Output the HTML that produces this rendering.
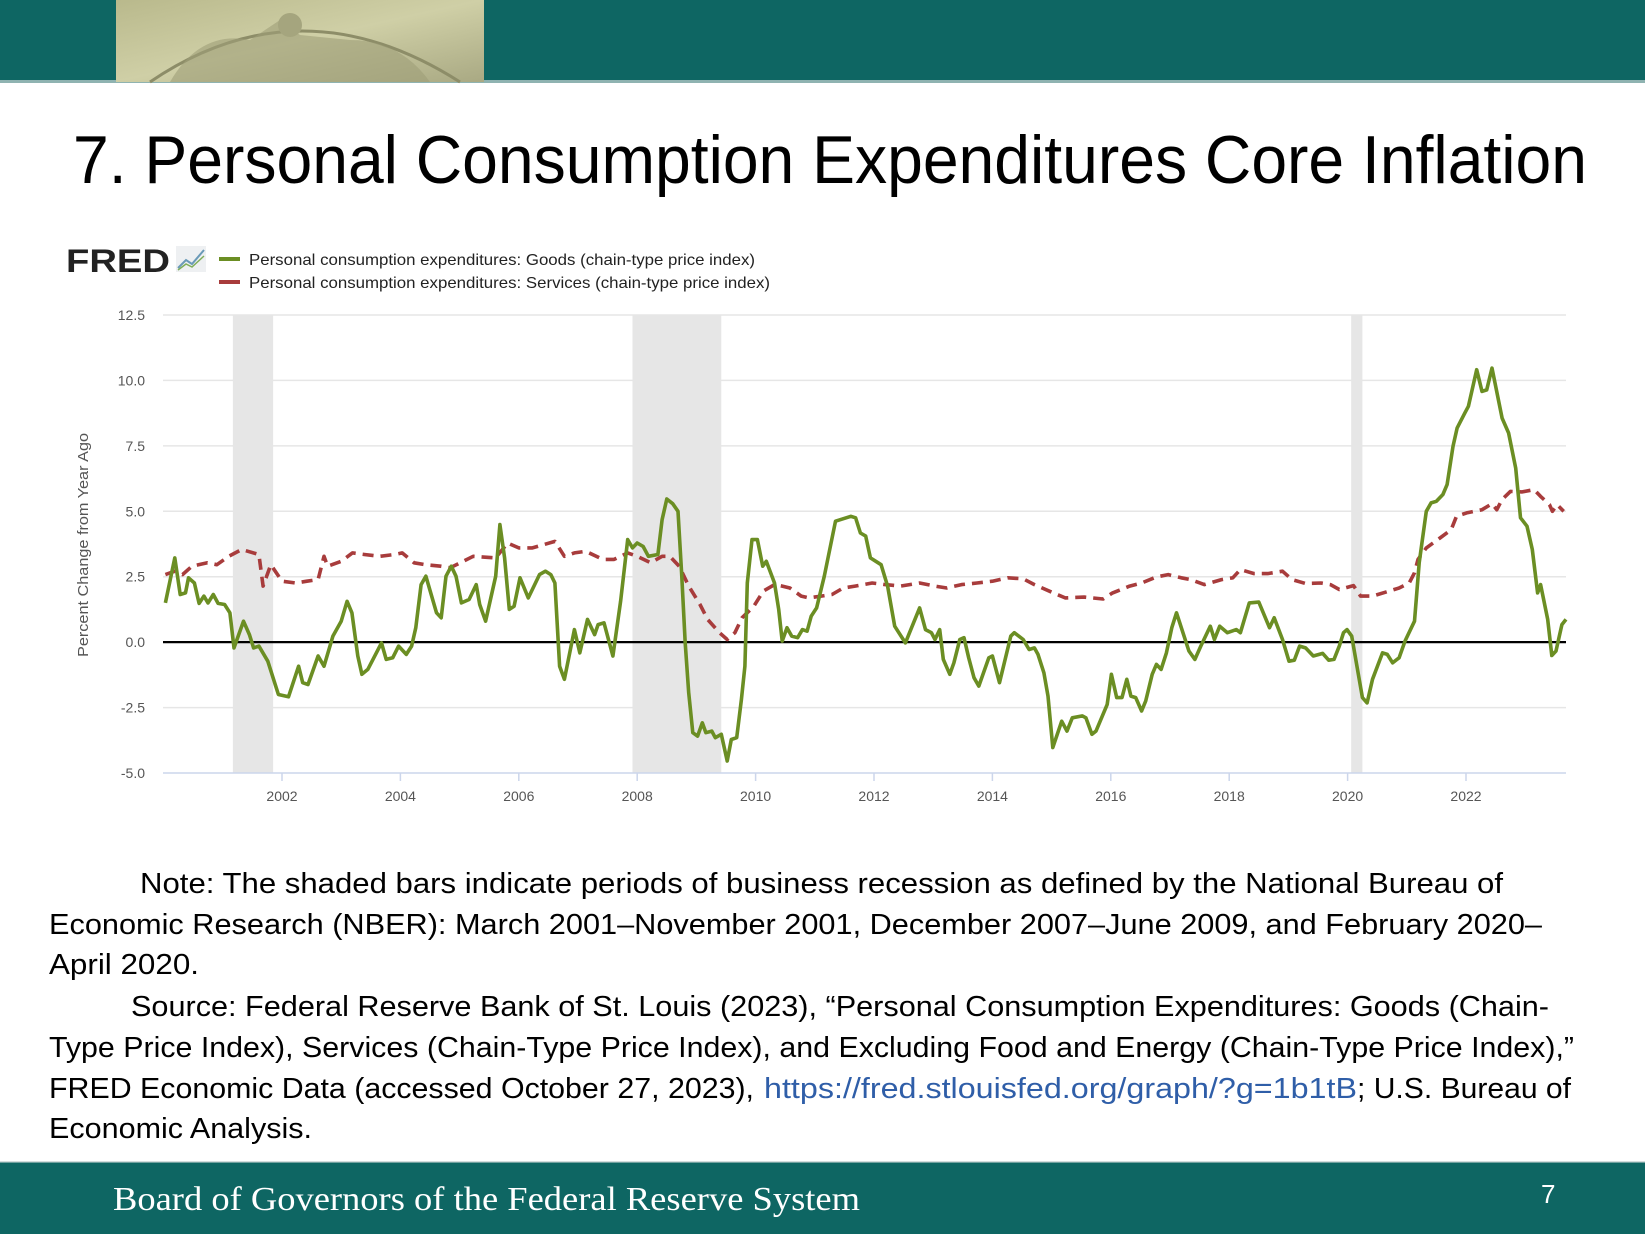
<!DOCTYPE html>
<html><head><meta charset="utf-8"><style>
html,body{margin:0;padding:0;background:#fff;}
svg{display:block;}
text{font-family:"Liberation Sans",sans-serif;}
</style></head><body>
<svg id="page" width="1645" height="1234" viewBox="0 0 1645 1234" xmlns="http://www.w3.org/2000/svg">
<defs>
<linearGradient id="seal" x1="0" y1="0" x2="1" y2="1">
<stop offset="0" stop-color="#b9b98c"/><stop offset="0.5" stop-color="#cfcfa6"/><stop offset="1" stop-color="#a9a983"/>
</linearGradient>
</defs>
<rect x="0" y="0" width="1645" height="82" fill="#0e6663"/>
<rect x="0" y="80" width="1645" height="3" fill="#8fb3b1"/>
<g>
<rect x="116" y="0" width="368" height="82" fill="url(#seal)"/>
<path d="M150 82 Q300 -20 460 82" fill="none" stroke="#8d8d68" stroke-width="3"/>
<path d="M170 82 Q200 30 250 40 L280 20 L300 35 L350 40 Q400 40 430 82" fill="#9f9f78" opacity="0.6"/>
<circle cx="290" cy="25" r="12" fill="#a5a57e"/>
</g>
<text x="73" y="183" font-size="68" fill="#000" textLength="1514" lengthAdjust="spacingAndGlyphs">7. Personal Consumption Expenditures Core Inflation</text>

<g>
<text x="66" y="272" font-size="32" font-weight="bold" fill="#222" textLength="104" lengthAdjust="spacingAndGlyphs">FRED</text>
<rect x="176" y="246" width="30" height="26" fill="#eef0f2"/>
<polyline points="178,268 186,260 192,264 204,250" fill="none" stroke="#6a9ab8" stroke-width="2"/>
<polyline points="178,270 186,264 192,267 204,256" fill="none" stroke="#7fae5a" stroke-width="1.5"/>
</g>
<g>
<line x1="219" y1="259" x2="240" y2="259" stroke="#6b8e23" stroke-width="4"/>
<text x="249" y="265" font-size="16" fill="#222" textLength="506" lengthAdjust="spacingAndGlyphs">Personal consumption expenditures: Goods (chain-type price index)</text>
<line x1="219" y1="282" x2="240" y2="282" stroke="#a83c3c" stroke-width="4"/>
<text x="249" y="288" font-size="16" fill="#222" textLength="521" lengthAdjust="spacingAndGlyphs">Personal consumption expenditures: Services (chain-type price index)</text>
</g>
<text transform="translate(88,545) rotate(-90)" text-anchor="middle" font-size="15" fill="#555" textLength="224" lengthAdjust="spacingAndGlyphs">Percent Change from Year Ago</text>
<g id="chart"></g>

<g font-size="29" fill="#000">
<text x="140" y="893" textLength="1363" lengthAdjust="spacingAndGlyphs">Note: The shaded bars indicate periods of business recession as defined by the National Bureau of</text>
<text x="49" y="934" textLength="1493" lengthAdjust="spacingAndGlyphs">Economic Research (NBER): March 2001–November 2001, December 2007–June 2009, and February 2020–</text>
<text x="49" y="974" textLength="150" lengthAdjust="spacingAndGlyphs">April 2020.</text>
</g>
<g font-size="29" fill="#000">
<text x="131" y="1016" textLength="1418" lengthAdjust="spacingAndGlyphs">Source: Federal Reserve Bank of St. Louis (2023), “Personal Consumption Expenditures: Goods (Chain-</text>
<text x="49" y="1057" textLength="1525" lengthAdjust="spacingAndGlyphs">Type Price Index), Services (Chain-Type Price Index), and Excluding Food and Energy (Chain-Type Price Index),”</text>
<text x="49" y="1098" textLength="705" lengthAdjust="spacingAndGlyphs">FRED Economic Data (accessed October 27, 2023),</text>
<text x="764" y="1098" fill="#2f5ea8" textLength="593" lengthAdjust="spacingAndGlyphs">https://fred.stlouisfed.org/graph/?g=1b1tB</text>
<text x="1357" y="1098" textLength="214" lengthAdjust="spacingAndGlyphs">; U.S. Bureau of</text>
<text x="49" y="1138" textLength="263" lengthAdjust="spacingAndGlyphs">Economic Analysis.</text>
</g>
<rect x="0" y="1162" width="1645" height="72" fill="#0e6663"/>
<rect x="0" y="1161" width="1645" height="1.5" fill="#d5dcdc"/>
<text x="113" y="1210" font-size="34" fill="#fff" style="font-family:'Liberation Serif',serif" textLength="747" lengthAdjust="spacingAndGlyphs">Board of Governors of the Federal Reserve System</text>
<text x="1541" y="1203" font-size="26" fill="#fff">7</text>
</svg>
<script>
const recessionStarts=[2001.17,2007.92,2020.06];
const recessionEnds=[2001.85,2009.42,2020.25];
const yTicks=[12.5,10.0,7.5,5.0,2.5,0.0,-2.5,-5.0];
const xTickYears=[2002,2004,2006,2008,2010,2012,2014,2016,2018,2020,2022];
const goodsDates=[2000.03,2000.19,2000.28,2000.37,2000.42,2000.52,2000.60,2000.68,2000.75,2000.84,2000.92,2001.03,2001.12,2001.19,2001.35,2001.45,2001.52,2001.61,2001.76,2001.94,2002.11,2002.28,2002.35,2002.44,2002.61,2002.71,2002.86,2003.00,2003.10,2003.18,2003.28,2003.35,2003.45,2003.68,2003.76,2003.87,2003.97,2004.10,2004.19,2004.26,2004.35,2004.43,2004.61,2004.69,2004.77,2004.86,2004.94,2005.03,2005.16,2005.28,2005.34,2005.44,2005.61,2005.68,2005.76,2005.84,2005.92,2006.02,2006.16,2006.35,2006.45,2006.54,2006.61,2006.69,2006.77,2006.94,2007.03,2007.16,2007.28,2007.34,2007.44,2007.59,2007.72,2007.84,2007.92,2008.00,2008.10,2008.19,2008.35,2008.42,2008.50,2008.60,2008.69,2008.75,2008.81,2008.87,2008.94,2009.02,2009.10,2009.16,2009.26,2009.32,2009.42,2009.52,2009.59,2009.68,2009.76,2009.82,2009.86,2009.94,2010.03,2010.12,2010.18,2010.32,2010.39,2010.45,2010.53,2010.61,2010.71,2010.79,2010.87,2010.94,2011.03,2011.16,2011.35,2011.61,2011.69,2011.77,2011.86,2011.94,2012.03,2012.12,2012.23,2012.35,2012.53,2012.77,2012.87,2012.97,2013.03,2013.11,2013.17,2013.28,2013.35,2013.45,2013.52,2013.60,2013.69,2013.77,2013.94,2014.00,2014.12,2014.31,2014.37,2014.52,2014.62,2014.71,2014.77,2014.87,2014.94,2015.02,2015.17,2015.26,2015.35,2015.52,2015.58,2015.68,2015.75,2015.94,2016.01,2016.10,2016.19,2016.27,2016.34,2016.42,2016.52,2016.59,2016.70,2016.77,2016.85,2016.94,2017.03,2017.11,2017.32,2017.42,2017.52,2017.68,2017.75,2017.84,2017.97,2018.12,2018.19,2018.34,2018.50,2018.68,2018.76,2018.90,2019.01,2019.10,2019.19,2019.29,2019.42,2019.58,2019.68,2019.77,2019.86,2019.93,2019.99,2020.07,2020.25,2020.33,2020.42,2020.59,2020.67,2020.76,2020.87,2020.97,2021.13,2021.21,2021.33,2021.41,2021.50,2021.61,2021.68,2021.78,2021.85,2021.98,2022.04,2022.18,2022.27,2022.35,2022.44,2022.61,2022.72,2022.84,2022.92,2023.03,2023.12,2023.21,2023.26,2023.38,2023.45,2023.52,2023.62,2023.69];
const goodsValues=[1.50,3.22,1.82,1.88,2.46,2.26,1.48,1.76,1.50,1.82,1.48,1.44,1.12,-0.22,0.80,0.29,-0.22,-0.15,-0.73,-2.00,-2.09,-0.92,-1.55,-1.62,-0.53,-0.92,0.23,0.80,1.56,1.12,-0.53,-1.23,-1.04,-0.03,-0.66,-0.60,-0.15,-0.47,-0.15,0.55,2.20,2.52,1.12,0.93,2.52,2.90,2.52,1.50,1.63,2.20,1.44,0.80,2.52,4.49,3.22,1.25,1.37,2.46,1.69,2.58,2.71,2.58,2.26,-0.92,-1.42,0.48,-0.41,0.87,0.29,0.67,0.74,-0.53,1.56,3.92,3.60,3.79,3.66,3.28,3.35,4.68,5.47,5.29,5.00,2.65,-0.03,-1.93,-3.46,-3.59,-3.08,-3.46,-3.40,-3.65,-3.52,-4.54,-3.72,-3.65,-2.19,-0.92,2.26,3.92,3.92,2.90,3.09,2.26,1.25,0.04,0.55,0.23,0.17,0.48,0.42,0.99,1.31,2.52,4.62,4.81,4.75,4.17,4.05,3.22,3.09,2.96,2.14,0.61,-0.03,1.31,0.48,0.36,0.10,0.48,-0.66,-1.23,-0.79,0.10,0.17,-0.60,-1.36,-1.68,-0.60,-0.53,-1.55,0.23,0.36,0.10,-0.28,-0.22,-0.47,-1.17,-2.06,-4.03,-3.02,-3.40,-2.89,-2.82,-2.89,-3.52,-3.40,-2.38,-1.23,-2.12,-2.12,-1.42,-2.06,-2.12,-2.63,-2.25,-1.23,-0.85,-1.04,-0.41,0.55,1.12,-0.34,-0.66,-0.15,0.61,0.10,0.61,0.36,0.48,0.36,1.50,1.53,0.55,0.93,0.10,-0.73,-0.69,-0.15,-0.22,-0.53,-0.43,-0.69,-0.66,-0.15,0.36,0.48,0.23,-2.12,-2.32,-1.42,-0.41,-0.47,-0.79,-0.60,0.04,0.80,3.03,5.00,5.32,5.38,5.64,6.02,7.48,8.18,8.75,9.01,10.41,9.58,9.64,10.47,8.56,7.99,6.65,4.75,4.43,3.54,1.88,2.20,0.87,-0.51,-0.34,0.67,0.87];
const servicesDates=[2000.03,2000.19,2000.32,2000.48,2000.74,2000.90,2001.10,2001.32,2001.61,2001.68,2001.81,2002.00,2002.23,2002.42,2002.61,2002.71,2002.77,2003.00,2003.19,2003.39,2003.65,2003.90,2004.03,2004.23,2004.42,2004.68,2004.84,2005.06,2005.23,2005.61,2005.81,2006.00,2006.23,2006.61,2006.77,2006.94,2007.13,2007.42,2007.61,2007.84,2008.00,2008.23,2008.42,2008.55,2008.71,2008.87,2009.06,2009.19,2009.39,2009.52,2009.65,2009.77,2009.97,2010.13,2010.32,2010.45,2010.58,2010.77,2010.90,2011.29,2011.48,2011.68,2011.97,2012.19,2012.45,2012.77,2013.03,2013.23,2013.48,2013.74,2014.00,2014.26,2014.52,2014.71,2015.03,2015.23,2015.55,2015.87,2016.03,2016.32,2016.52,2016.77,2016.97,2017.19,2017.35,2017.58,2017.87,2018.06,2018.19,2018.42,2018.65,2018.90,2019.06,2019.29,2019.55,2019.71,2019.86,2020.10,2020.22,2020.42,2020.64,2020.87,2021.04,2021.13,2021.19,2021.33,2021.56,2021.75,2021.84,2022.01,2022.27,2022.44,2022.52,2022.61,2022.75,2022.95,2023.15,2023.26,2023.41,2023.46,2023.54,2023.65];
const servicesValues=[2.58,2.71,2.58,2.90,3.03,2.96,3.28,3.54,3.35,2.14,2.96,2.33,2.26,2.33,2.39,3.28,2.90,3.09,3.41,3.35,3.28,3.35,3.41,3.03,2.96,2.90,2.84,3.09,3.28,3.22,3.79,3.60,3.60,3.85,3.28,3.41,3.47,3.16,3.16,3.41,3.28,3.03,3.28,3.28,2.90,2.14,1.44,0.87,0.36,0.10,0.36,0.93,1.37,1.95,2.20,2.14,2.07,1.76,1.69,1.82,2.07,2.14,2.26,2.20,2.14,2.26,2.14,2.07,2.20,2.26,2.33,2.46,2.42,2.20,1.88,1.69,1.72,1.65,1.88,2.14,2.26,2.49,2.58,2.46,2.39,2.20,2.39,2.46,2.77,2.62,2.62,2.71,2.39,2.24,2.26,2.20,2.01,2.16,1.76,1.76,1.91,2.07,2.26,2.65,3.16,3.60,3.98,4.30,4.81,4.94,5.06,5.29,5.06,5.45,5.76,5.74,5.83,5.57,5.25,5.00,5.25,5.00];

const NS='http://www.w3.org/2000/svg';
const plotL=163,plotR=1566,plotT=315,plotB=773;
const yMin=-5,yMax=12.5,x0Year=2002,x1Year=2022,x0Px=282,x1Px=1466;
function xScale(yr){return x0Px+(yr-x0Year)*(x1Px-x0Px)/(x1Year-x0Year);}
function yScale(v){return plotB-(v-yMin)*(plotB-plotT)/(yMax-yMin);}
const chart=document.getElementById('chart');
function mk(tag,attrs){const e=document.createElementNS(NS,tag);for(const k in attrs)e.setAttribute(k,attrs[k]);chart.appendChild(e);return e;}
recessionStarts.forEach((s,i)=>{
  const r=mk('rect',{x:xScale(s),y:plotT,width:xScale(recessionEnds[i])-xScale(s),height:plotB-plotT,fill:'#e6e6e6'});
  
  
});
yTicks.forEach(v=>{
  if(v!==yMin){
    const g=mk('line',{x1:plotL,x2:plotR,y1:yScale(v),y2:yScale(v),stroke:'#e6e6e6','stroke-width':1.5});
    
    
  }
  const t=mk('text',{x:145,y:yScale(v)+5,'text-anchor':'end','font-size':14,fill:'#555'});
  t.textContent=v.toFixed(1);
  
  
});
const ax=mk('line',{x1:plotL,x2:plotR,y1:plotB,y2:plotB,stroke:'#ccd6eb','stroke-width':1.5});


xTickYears.forEach(yr=>{
  const tk=mk('line',{x1:xScale(yr),x2:xScale(yr),y1:plotB,y2:plotB+8,stroke:'#ccd6eb','stroke-width':1.5});
  
  
  const t=mk('text',{x:xScale(yr),y:801,'text-anchor':'middle','font-size':14,fill:'#555'});
  t.textContent=yr;
  
  
});
const zl=mk('line',{x1:plotL,x2:plotR,y1:yScale(0),y2:yScale(0),stroke:'#000','stroke-width':2.2});


function pts(d,v){return d.map((yr,i)=>xScale(yr).toFixed(1)+','+yScale(v[i]).toFixed(1)).join(' ');}
const sv=mk('polyline',{points:pts(servicesDates,servicesValues),fill:'none',stroke:'#a83c3c','stroke-width':3.6,'stroke-dasharray':'11,7','stroke-linejoin':'round'});


const gd=mk('polyline',{points:pts(goodsDates,goodsValues),fill:'none',stroke:'#6b8e23','stroke-width':3.6,'stroke-linejoin':'round'});


</script>
</body></html>
